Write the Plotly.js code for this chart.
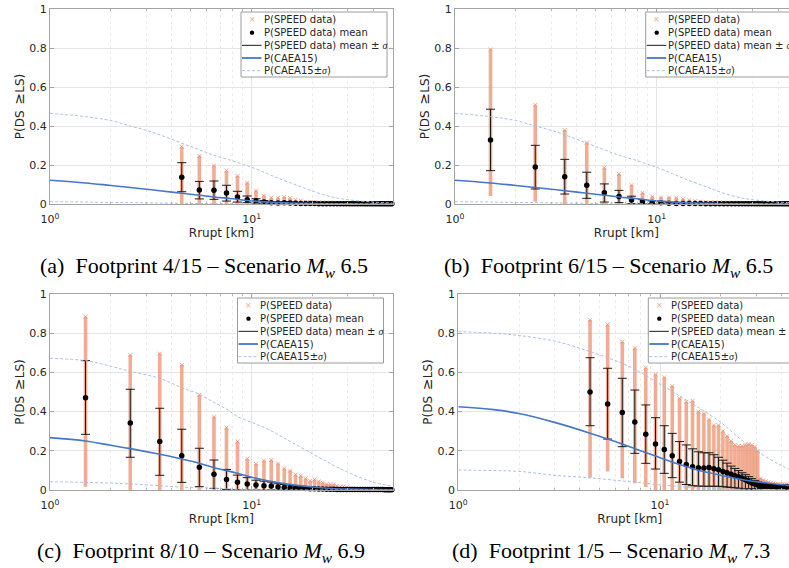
<!DOCTYPE html>
<html><head><meta charset="utf-8">
<script src="https://cdn.plot.ly/plotly-3.0.1.min.js"></script>
<style>html,body{margin:0;padding:0;overflow:hidden;background:#fff;width:789px;height:568px}#plot{width:805px;height:568px}</style>
</head><body><div id="plot"></div><script>
const W = 805, H = 568;

// ---- Rrupt bins ----
const binsFrom4 = [4.5,5.5,6.5,7.5,8.5,9.5,10.5,11.5,12.5,13.5,14.5,15.5,16.5,17.5,18.5,19.5,20.5,21.5,22.5,23.5,24.5,25.5,26.5,27.5,28.5,29.5,30.5,31.5,32.5,33.5,34.5,35.5,36.5,37.5,38.5,39.5,40.5,41.5,42.5,43.5,44.5,45.5,46.5,47.5,48.5,49.5];
const binsFrom1 = [1.5,2.5,3.5,4.5,5.5,6.5,7.5,8.5,9.5,10.5,11.5,12.5,13.5,14.5,15.5,16.5,17.5,18.5,19.5,20.5,21.5,22.5,23.5,24.5,25.5,26.5,27.5,28.5,29.5,30.5,31.5,32.5,33.5,34.5,35.5,36.5,37.5,38.5,39.5,40.5,41.5,42.5,43.5,44.5,45.5,46.5,47.5,48.5,49.5];

// ---- (a) Footprint 4/15, Mw 6.5 ----
const aMean = [0.137,0.072,0.070,0.056,0.036,0.022,0.015,0.010,0.006,0.005,0.006,0.005,0.004,0.003,0.002,0.002,0.002,0.001,0.001,0.001,0.001,0.001,0.001,0.001,0.001,0.001,0.001,0.001,0.001,0.001,0.001,0.001,0.001,0.001,0.001,0.001,0.001,0.001,0.001,0.001,0.001,0.001,0.001,0.001,0.001,0.001];
const aUp   = [0.212,0.116,0.118,0.096,0.065,0.041,0.027,0.018,0.012,0.010,0.011,0.010,0.008,0.006,0.004,0.004,0.004,0.003,0.003,0.003,0.002,0.002,0.002,0.002,0.002,0.002,0.002,0.002,0.002,0.002,0.002,0.002,0.002,0.002,0.002,0.002,0.002,0.002,0.002,0.002,0.002,0.002,0.002,0.002,0.002,0.002];
const aLo   = [0.063,0.026,0.024,0.015,0.010,0.007,0.004,0.003,0.001,0.001,0.001,0.001,0,0,0,0,0,0,0,0,0,0,0,0,0,0,0,0,0,0,0,0,0,0,0,0,0,0,0,0,0,0,0,0,0,0];
const aMax  = [0.294,0.246,0.197,0.171,0.144,0.109,0.068,0.043,0.032,0.032,0.036,0.030,0.021,0.017,0.012,0.010,0.009,0.008,0.008,0.007,0.007,0.006,0.006,0.006,0.005,0.005,0.005,0.005,0.005,0.004,0.004,0.004,0.004,0.004,0.004,0.004,0.003,0.003,0.003,0.003,0.003,0.003,0.003,0.003,0.003,0.003];
const aMin  = [0,0,0,0,0,0,0,0,0,0,0,0,0,0,0,0,0,0,0,0,0,0,0,0,0,0,0,0,0,0,0,0,0,0,0,0,0,0,0,0,0,0,0,0,0,0];

// ---- (b) Footprint 6/15, Mw 6.5 ----
const bMean = [0.328,0.190,0.140,0.096,0.058,0.038,0.021,0.011,0.008,0.006,0.004,0.003,0.002,0.002,0.002,0.002,0.001,0.001,0.001,0.001,0.001,0.001,0.001,0.001,0.001,0.001,0.001,0.001,0.001,0.001,0.001,0.001,0.001,0.001,0.001,0.001,0.001,0.001,0.001,0.001,0.001,0.001,0.001,0.001,0.001,0.001,0.001,0.001,0.001];
const bUp   = [0.486,0.301,0.229,0.163,0.103,0.070,0.040,0.022,0.016,0.012,0.009,0.007,0.006,0.005,0.004,0.004,0.003,0.003,0.003,0.002,0.002,0.002,0.002,0.002,0.002,0.002,0.002,0.002,0.002,0.002,0.002,0.002,0.002,0.002,0.002,0.002,0.002,0.002,0.002,0.002,0.002,0.002,0.002,0.002,0.002,0.002,0.002,0.002,0.002];
const bLo   = [0.171,0.077,0.051,0.029,0.010,0.007,0.002,0.001,0.001,0,0,0,0,0,0,0,0,0,0,0,0,0,0,0,0,0,0,0,0,0,0,0,0,0,0,0,0,0,0,0,0,0,0,0,0,0,0,0,0];
const bMax  = [0.793,0.508,0.379,0.315,0.186,0.154,0.097,0.058,0.038,0.034,0.034,0.033,0.025,0.020,0.015,0.012,0.010,0.009,0.008,0.008,0.007,0.007,0.006,0.006,0.006,0.005,0.005,0.005,0.005,0.005,0.004,0.004,0.004,0.004,0.004,0.004,0.004,0.004,0.004,0.003,0.003,0.003,0.003,0.003,0.003,0.003,0.003,0.003,0.003];
const bMin  = [0.041,0.012,0,0,0,0,0,0,0,0,0,0,0,0,0,0,0,0,0,0,0,0,0,0,0,0,0,0,0,0,0,0,0,0,0,0,0,0,0,0,0,0,0,0,0,0,0,0,0];

// ---- (c) Footprint 8/10, Mw 6.9 ----
const cMean = [0.471,0.342,0.247,0.175,0.116,0.080,0.054,0.039,0.031,0.026,0.022,0.020,0.015,0.013,0.012,0.010,0.009,0.008,0.007,0.006,0.005,0.005,0.004,0.004,0.004,0.003,0.003,0.003,0.003,0.002,0.002,0.002,0.002,0.002,0.002,0.002,0.002,0.002,0.002,0.002,0.002,0.002,0.002,0.002,0.001,0.001,0.001,0.001,0.001];
const cUp   = [0.660,0.514,0.417,0.310,0.213,0.153,0.105,0.076,0.063,0.050,0.045,0.040,0.032,0.028,0.025,0.021,0.019,0.017,0.015,0.013,0.011,0.010,0.009,0.008,0.008,0.007,0.006,0.006,0.005,0.005,0.004,0.004,0.004,0.004,0.003,0.003,0.003,0.003,0.003,0.003,0.003,0.002,0.002,0.002,0.002,0.002,0.002,0.002,0.002];
const cLo   = [0.284,0.167,0.075,0.039,0.017,0.008,0.003,0.001,0,0,0,0,0,0,0,0,0,0,0,0,0,0,0,0,0,0,0,0,0,0,0,0,0,0,0,0,0,0,0,0,0,0,0,0,0,0,0,0,0];
const cMax  = [0.884,0.689,0.696,0.638,0.485,0.374,0.318,0.247,0.160,0.133,0.150,0.153,0.135,0.110,0.099,0.079,0.073,0.059,0.046,0.054,0.044,0.037,0.030,0.029,0.029,0.020,0.017,0.017,0.013,0.010,0.008,0.007,0.006,0.006,0.005,0.005,0.005,0.005,0.004,0.004,0.004,0.004,0.004,0.004,0.004,0.004,0.004,0.004,0.004];
const cMin  = [0.017,0,0,0,0,0,0,0,0,0,0,0,0,0,0,0,0,0,0,0,0,0,0,0,0,0,0,0,0,0,0,0,0,0,0,0,0,0,0,0,0,0,0,0,0,0,0,0,0];

// ---- (d) Footprint 1/5, Mw 7.3 ----
const dMean = [0.500,0.439,0.395,0.347,0.284,0.235,0.207,0.175,0.145,0.130,0.119,0.114,0.112,0.115,0.108,0.103,0.095,0.088,0.080,0.073,0.068,0.060,0.052,0.044,0.036,0.031,0.026,0.022,0.021,0.020,0.019,0.018,0.018,0.017,0.017,0.016,0.016,0.016,0.015,0.015,0.015,0.015,0.014,0.014,0.014,0.014];
const dUp   = [0.675,0.621,0.570,0.510,0.434,0.369,0.328,0.289,0.247,0.230,0.210,0.195,0.190,0.190,0.180,0.167,0.152,0.137,0.122,0.110,0.099,0.088,0.078,0.068,0.058,0.049,0.041,0.035,0.032,0.030,0.028,0.026,0.026,0.025,0.025,0.024,0.024,0.023,0.023,0.022,0.022,0.022,0.021,0.021,0.021,0.021];
const dLo   = [0.328,0.260,0.221,0.187,0.136,0.107,0.085,0.063,0.040,0.028,0.022,0.020,0.019,0.019,0.019,0.019,0.017,0.015,0.013,0.011,0.009,0.007,0.006,0.005,0.005,0.005,0.006,0.008,0.010,0.011,0.011,0.011,0.011,0.010,0.010,0.010,0.009,0.009,0.009,0.009,0.008,0.008,0.008,0.008,0.008,0.008];
const dMax  = [0.867,0.845,0.757,0.723,0.624,0.590,0.575,0.530,0.468,0.450,0.455,0.400,0.390,0.360,0.330,0.330,0.300,0.275,0.250,0.230,0.225,0.225,0.230,0.235,0.230,0.220,0.200,0.060,0.050,0.045,0.040,0.035,0.035,0.032,0.030,0.030,0.030,0.028,0.028,0.027,0.027,0.026,0.026,0.025,0.025,0.025];
const dMin  = [0.063,0.094,0.060,0.035,0.015,0,0,0,0,0,0,0,0,0,0,0,0,0,0,0,0,0,0,0,0,0,0,0,0,0,0,0,0,0,0,0,0,0,0,0,0,0,0,0,0,0];

// ---- CAEA15 fragility curves ----
const caeaX65   = [1,1.5,2,2.5,3,3.5,4.5,5.5,6.5,8,10,12,14,17,20,25,30,40,50];
const caeaMid65 = [0.122,0.108,0.095,0.085,0.076,0.068,0.055,0.045,0.036,0.027,0.016,0.010,0.007,0.004,0.002,0.001,0.0005,0.0002,0.0001];
const caeaHi65  = [0.465,0.448,0.428,0.400,0.378,0.355,0.312,0.278,0.250,0.222,0.188,0.155,0.126,0.094,0.066,0.036,0.022,0.010,0.005];
const caeaLo65  = [0.012,0.010,0.008,0.007,0.006,0.005,0.003,0.002,0.0015,0.001,0.0005,0.0003,0.0002,0.0001,0,0,0,0,0];

const caeaX69   = [1,1.5,2,2.5,3.5,4.5,5.5,6.5,7.5,8.5,10,12,15,20,25,30,40,50];
const caeaMid69 = [0.267,0.250,0.228,0.211,0.182,0.158,0.136,0.114,0.099,0.085,0.065,0.047,0.030,0.015,0.008,0.005,0.002,0.001];
const caeaHi69  = [0.672,0.660,0.632,0.605,0.570,0.522,0.488,0.447,0.413,0.375,0.345,0.311,0.256,0.185,0.130,0.090,0.040,0.019];
const caeaLo69  = [0.042,0.039,0.035,0.031,0.022,0.015,0.012,0.009,0.006,0.004,0.003,0.0015,0.0007,0.0002,0.0001,0,0,0];

const caeaX73   = [1,1.5,2,3,4.5,6.5,8,10,12.5,15,20,25,30,40,50];
const caeaMid73 = [0.425,0.410,0.390,0.345,0.290,0.235,0.200,0.165,0.130,0.105,0.075,0.055,0.042,0.027,0.019];
const caeaHi73  = [0.808,0.800,0.788,0.760,0.706,0.646,0.600,0.540,0.480,0.430,0.345,0.260,0.200,0.125,0.080];
const caeaLo73  = [0.102,0.099,0.095,0.075,0.062,0.046,0.037,0.026,0.018,0.012,0.006,0.004,0.002,0.001,0.0005];

// ---- text ----
const SIG = '<span style="font-family:Liberation Serif;font-style:italic;font-size:10px">\u03c3</span>';
const legendNames = ['P(SPEED data)','P(SPEED data) mean','P(SPEED data) mean \u00b1 '+SIG,'P(CAEA15)','P(CAEA15\u00b1'+SIG+')'];
const captions = [
  '(a)\u00a0\u00a0Footprint 4/15 \u2013 Scenario <i>M</i><sub><i>w</i></sub> 6.5',
  '(b)\u00a0\u00a0Footprint 6/15 \u2013 Scenario <i>M</i><sub><i>w</i></sub> 6.5',
  '(c)\u00a0\u00a0Footprint 8/10 \u2013 Scenario <i>M</i><sub><i>w</i></sub> 6.9',
  '(d)\u00a0\u00a0Footprint 1/5 \u2013 Scenario <i>M</i><sub><i>w</i></sub> 7.3'
];
const xTitle = 'Rrupt [km]';
const yTitle = 'P(DS\u2002<span style="font-size:14px">\u2265</span>LS)';

// ---- styles ----
const SALMON = 'rgba(236,140,105,0.72)';
const BLUE = '#4677c9';
const LBLUE = '#a8c0e6';
const TXT = '#262626';
const FONT = 'DejaVu Sans';

function colTrace(x, mn, mx, ax){
  return {type:'scatter', mode:'markers', x:x, y:mx, xaxis:'x'+ax, yaxis:'y'+ax, name:'P(SPEED data)', showlegend:false, cliponaxis:false, hoverinfo:'skip',
    marker:{symbol:'x-thin', size:4, line:{color:SALMON, width:1}},
    error_y:{type:'data', symmetric:false, array:mx.map(()=>0), arrayminus:mx.map((v,i)=>Math.max(0,v-mn[i])), color:SALMON, thickness:3.6, width:0}};
}
function meanTrace(x, m, up, lo, ax){
  return {type:'scatter', mode:'markers', x:x, y:m, xaxis:'x'+ax, yaxis:'y'+ax, name:'P(SPEED data) mean', showlegend:false, cliponaxis:false,
    marker:{color:'#000', size:5.5},
    error_y:{type:'data', symmetric:false, array:up.map((v,i)=>Math.max(0,v-m[i])), arrayminus:lo.map((v,i)=>Math.max(0,m[i]-v)), color:'#1a1a1a', thickness:1, width:4.5}};
}
function curve(x, y, ax, name, dashed){
  return {type:'scatter', mode:'lines', x:x, y:y, xaxis:'x'+ax, yaxis:'y'+ax, name:name, showlegend:false, hoverinfo:'skip',
    line: dashed ? {color:LBLUE, width:1, dash:'3px,2px', shape:'spline'} : {color:BLUE, width:1.6, shape:'spline'}};
}

const panels = [
  {ax:'', x:binsFrom4, mean:aMean, up:aUp, lo:aLo, mx:aMax, mn:aMin, cx:caeaX65, mid:caeaMid65, hi:caeaHi65, low:caeaLo65},
  {ax:'2', x:binsFrom1, mean:bMean, up:bUp, lo:bLo, mx:bMax, mn:bMin, cx:caeaX65, mid:caeaMid65, hi:caeaHi65, low:caeaLo65},
  {ax:'3', x:binsFrom1, mean:cMean, up:cUp, lo:cLo, mx:cMax, mn:cMin, cx:caeaX69, mid:caeaMid69, hi:caeaHi69, low:caeaLo69},
  {ax:'4', x:binsFrom4, mean:dMean, up:dUp, lo:dLo, mx:dMax, mn:dMin, cx:caeaX73, mid:caeaMid73, hi:caeaHi73, low:caeaLo73}
];

const traces = [];
panels.forEach(p=>{
  traces.push(colTrace(p.x, p.mn, p.mx, p.ax));
  traces.push(meanTrace(p.x, p.mean, p.up, p.lo, p.ax));
  traces.push(curve(p.cx, p.mid, p.ax, 'P(CAEA15)', false));
  traces.push(curve(p.cx, p.hi, p.ax, 'P(CAEA15\u00b1\u03c3)', true));
  traces.push(curve(p.cx, p.low, p.ax, 'P(CAEA15\u00b1\u03c3)', true));
});

// ---- geometry (pixels) ----
const geo = [
  {l:50,    r:392.7, t:9,   b:204, leg:[241,12],    cap:[204,266.5]},
  {l:455,   r:797.7, t:9,   b:204, leg:[645.7,12],  cap:[608,266.5]},
  {l:50,    r:392.7, t:294, b:490, leg:[237.5,298], cap:[201,552]},
  {l:458.3, r:801,   t:294, b:490, leg:[648.3,298], cap:[610.5,552]}
];

const layout = {width:W, height:H, margin:{l:0,r:0,t:0,b:0}, paper_bgcolor:'#fff', plot_bgcolor:'#fff', showlegend:false,
  font:{family:FONT, color:TXT}, shapes:[], annotations:[]};

geo.forEach((g,i)=>{
  const ax = i===0 ? '' : String(i+1);
  layout['xaxis'+ax] = {type:'log', domain:[g.l/W, g.r/W], anchor:'y'+ax, range:[0, Math.log10(50)],
    tickmode:'array', tickvals:[1,10], ticktext:['10<sup>0</sup>','10<sup>1</sup>'], ticklabelstandoff:5,
    showgrid:true, gridcolor:'#e4e4e4', gridwidth:1, zeroline:false,
    showline:true, linecolor:'#a3a3a3', linewidth:1, mirror:'ticks', ticks:'inside', ticklen:4, tickcolor:'#a3a3a3',
    minor:{tickmode:'array', tickvals:[2,3,4,5,6,7,8,9,20,30,40], showgrid:true, gridcolor:'#ececec', griddash:'dot', ticks:'inside', ticklen:2, tickcolor:'#b5b5b5'},
    tickfont:{family:FONT, size:11, color:TXT},
    title:{text:xTitle, font:{family:FONT, size:12, color:TXT}, standoff:2}, automargin:false};
  layout['yaxis'+ax] = {domain:[1-g.b/H, 1-g.t/H], anchor:'x'+ax, range:[0,1],
    tickmode:'array', tickvals:[0,0.2,0.4,0.6,0.8,1], ticktext:['0','0.2','0.4','0.6','0.8','1'],
    showgrid:true, gridcolor:'#e4e4e4', zeroline:false,
    showline:true, linecolor:'#a3a3a3', linewidth:1, mirror:'ticks', ticks:'inside', ticklen:4, tickcolor:'#a3a3a3',
    tickfont:{family:FONT, size:11, color:TXT},
    title:{text:yTitle, font:{family:FONT, size:12, color:TXT}, standoff:2}, automargin:false};

  const L = g.leg[0], T = g.leg[1];
  const px = v=>v/W, py = v=>1-v/H;
  layout.shapes.push({type:'rect', xref:'paper', yref:'paper', x0:px(L), x1:px(L+146), y0:py(T+65), y1:py(T), line:{color:'#9c9c9c', width:1}, fillcolor:'#ffffff', layer:'above'});
  const yc = k => T + 8 + 12.67*k;
  layout.annotations.push({xref:'paper', yref:'paper', x:px(L+11), y:py(yc(0)), text:'\u00d7', showarrow:false, xanchor:'center', yanchor:'middle', font:{family:FONT, size:8, color:'rgba(236,140,105,0.8)'}});
  layout.shapes.push({type:'circle', xref:'paper', yref:'paper', x0:px(L+8.8), x1:px(L+13.2), y0:py(yc(1)+2.2), y1:py(yc(1)-2.2), fillcolor:'#000', line:{color:'#000', width:0}, layer:'above'});
  layout.shapes.push({type:'line', xref:'paper', yref:'paper', x0:px(L+1), x1:px(L+20.5), y0:py(yc(2)), y1:py(yc(2)), line:{color:'#1a1a1a', width:1}, layer:'above'});
  layout.shapes.push({type:'line', xref:'paper', yref:'paper', x0:px(L+1), x1:px(L+20.5), y0:py(yc(3)), y1:py(yc(3)), line:{color:BLUE, width:1.8}, layer:'above'});
  layout.shapes.push({type:'line', xref:'paper', yref:'paper', x0:px(L+1), x1:px(L+20.5), y0:py(yc(4)), y1:py(yc(4)), line:{color:LBLUE, width:1, dash:'3px,2px'}, layer:'above'});
  legendNames.forEach((nm,k)=>{
    layout.annotations.push({xref:'paper', yref:'paper', x:px(L+21.5), y:py(yc(k)), text:nm, showarrow:false, xanchor:'left', yanchor:'middle', borderpad:0, font:{family:FONT, size:10, color:TXT}});
  });
  layout.annotations.push({xref:'paper', yref:'paper', x:px(g.cap[0]), y:py(g.cap[1]), text:captions[i], showarrow:false, xanchor:'center', yanchor:'middle', font:{family:'Liberation Serif', size:22, color:'#000'}});
});

Plotly.newPlot('plot', traces, layout, {staticPlot:true, displayModeBar:false});
</script></body></html>
